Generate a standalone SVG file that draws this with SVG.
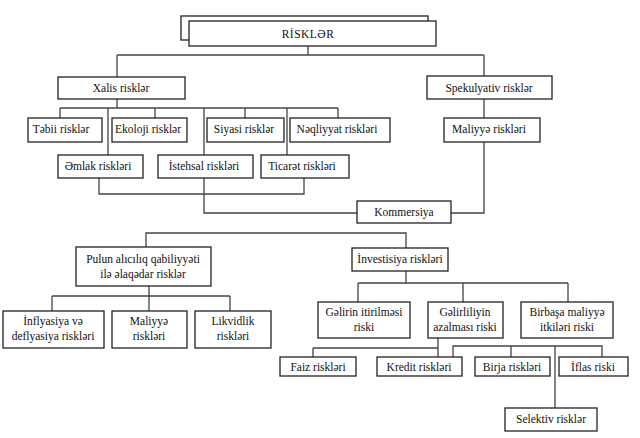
<svg xmlns="http://www.w3.org/2000/svg" width="640" height="438" viewBox="0 0 640 438">
<style>
.b{fill:#fff;stroke:#222;stroke-width:1.3}
.c{fill:none;stroke:#444;stroke-width:1.3}
text{font-family:"Liberation Serif","Times New Roman","DejaVu Serif",serif;font-size:11.5px;fill:#111;text-anchor:middle}
</style>
<rect width="640" height="438" fill="#fff"/>
<g id="connectors" class="c">
<path d="M308 46V55M117 55H484M117 55V77M484 55V76"/>
<path d="M117 99V108M60 108H338M60 108V118M155 108V118M245 108V118M338 108V118M108 108V155M204 108V155M287 108V155"/>
<path d="M484 99V118M484 142V213H451"/>
<path d="M99 178V194H304V178"/>
<path d="M204 178V213H357"/>
<path d="M146 247V233H406V248"/>
<path d="M149 286V296M52 296H230M52 296V311M149 296V311M230 296V311"/>
<path d="M406 271V283M358 283H568M358 283V302M463 283V302M568 283V302"/>
<path d="M438 338V357M313 348H438M313 348V357"/>
<path d="M453 357V346H602V357M511 346V357M555 346V408"/>
</g>
<g id="riskler">
<rect class="b" x="181" y="16" width="247" height="24"/>
<rect class="b" x="189" y="21" width="247" height="25"/>
<text x="308" y="38" style="letter-spacing:0.5px">RİSKLƏR</text>
</g>
<g id="xalis"><rect class="b" x="58" y="77" width="127" height="22"/><text x="121" y="92">Xalis risklər</text></g>
<g id="spekulyativ"><rect class="b" x="427" y="76" width="125" height="23"/><text x="489" y="92">Spekulyativ risklər</text></g>
<g id="tebii"><rect class="b" x="28" y="118" width="74" height="24"/><text x="61" y="133">Təbii risklər</text></g>
<g id="ekoloji"><rect class="b" x="112" y="118" width="75" height="24"/><text x="148" y="133">Ekoloji risklər</text></g>
<g id="siyasi"><rect class="b" x="207" y="118" width="77" height="24"/><text x="244" y="133">Siyasi risklər</text></g>
<g id="neqliyyat"><rect class="b" x="290" y="118" width="100" height="24"/><text x="337" y="133">Nəqliyyat riskləri</text></g>
<g id="maliyye1"><rect class="b" x="444" y="118" width="96" height="24"/><text x="489" y="133">Maliyyə riskləri</text></g>
<g id="emlak"><rect class="b" x="58" y="155" width="85" height="23"/><text x="98" y="170">Əmlak riskləri</text></g>
<g id="istehsal"><rect class="b" x="158" y="155" width="95" height="23"/><text x="204" y="170">İstehsal riskləri</text></g>
<g id="ticaret"><rect class="b" x="261" y="155" width="88" height="23"/><text x="302" y="170">Ticarət riskləri</text></g>
<g id="kommersiya"><rect class="b" x="357" y="201" width="94" height="22"/><text x="404" y="216">Kommersiya</text></g>
<g id="pulun"><rect class="b" x="76" y="247" width="135" height="39"/><text x="143" y="263">Pulun alıcılıq  qabiliyyəti</text><text x="143" y="278">ilə əlaqədar risklər</text></g>
<g id="investisiya"><rect class="b" x="352" y="248" width="96" height="23"/><text x="400" y="263">İnvestisiya riskləri</text></g>
<g id="inflyasiya"><rect class="b" x="3" y="311" width="101" height="37"/><text x="53" y="325">İnflyasiya və</text><text x="53" y="340">deflyasiya riskləri</text></g>
<g id="maliyye2"><rect class="b" x="112" y="311" width="75" height="37"/><text x="149" y="325">Maliyyə</text><text x="149" y="340">riskləri</text></g>
<g id="likvidlik"><rect class="b" x="195" y="311" width="76" height="37"/><text x="233" y="325">Likvidlik</text><text x="233" y="340">riskləri</text></g>
<g id="gelirin"><rect class="b" x="318" y="302" width="92" height="36"/><text x="364" y="316">Gəlirin itirilməsi</text><text x="364" y="331">riski</text></g>
<g id="gelirliliyin"><rect class="b" x="428" y="302" width="75" height="36"/><text x="465" y="316">Gəlirliliyin</text><text x="465" y="331">azalması riski</text></g>
<g id="birbasa"><rect class="b" x="521" y="302" width="92" height="36"/><text x="567" y="316">Birbaşa maliyyə</text><text x="567" y="331">itkiləri riski</text></g>
<g id="faiz"><rect class="b" x="280" y="357" width="76" height="19"/><text x="318" y="371">Faiz riskləri</text></g>
<g id="kredit"><rect class="b" x="377" y="357" width="85" height="19"/><text x="419" y="371">Kredit riskləri</text></g>
<g id="birja"><rect class="b" x="475" y="357" width="75" height="19"/><text x="512" y="371">Birja riskləri</text></g>
<g id="iflas"><rect class="b" x="559" y="357" width="69" height="19"/><text x="593" y="371">İflas riski</text></g>
<g id="selektiv"><rect class="b" x="505" y="408" width="92" height="23"/><text x="551" y="423">Selektiv risklər</text></g>
</svg>
